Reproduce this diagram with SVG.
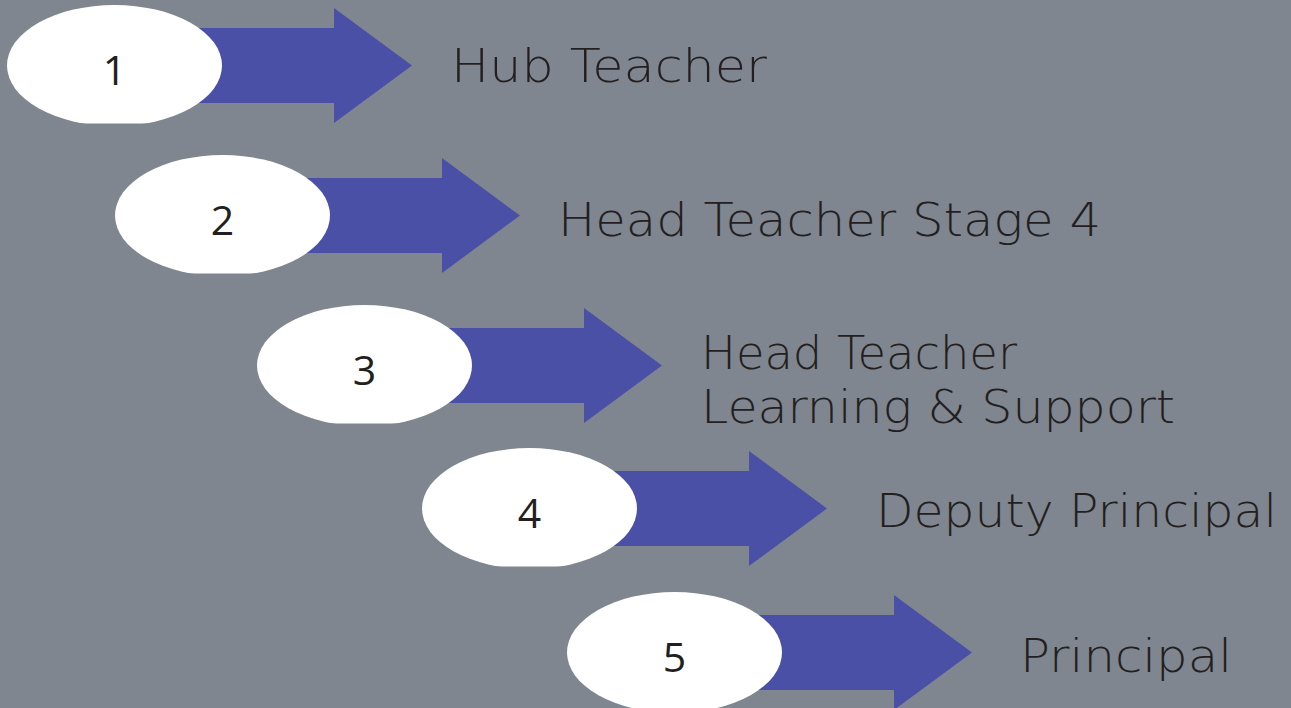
<svg xmlns="http://www.w3.org/2000/svg" width="1291" height="708" viewBox="0 0 1291 708">
<style>
.arrow{fill:#4a50a6}
.oval{fill:#ffffff}
.num{font-family:"Open Sans","Liberation Sans",sans-serif;font-size:41px;fill:#231f20;text-anchor:middle}
.lbl{font-family:"DejaVu Sans","Open Sans",sans-serif;font-weight:200;font-size:46px;fill:#231f20}
</style>
<defs>
<clipPath id="cut" clipPathUnits="objectBoundingBox"><rect x="0" y="0" width="1" height="0.98"/></clipPath>
</defs>
<rect width="1291" height="708" fill="#7f868f"/>
<g id="connectors">
<path class="arrow" d="M114.5,28 H334 V8 L412,65.5 L334,123 V103 H114.5 Z"/>
<path class="arrow" d="M222.5,178 H442 V158 L520,215.5 L442,273 V253 H222.5 Z"/>
<path class="arrow" d="M364.5,328 H584 V308 L662,365.5 L584,423 V403 H364.5 Z"/>
<path class="arrow" d="M529.5,471 H749 V451 L827,508.5 L749,566 V546 H529.5 Z"/>
<path class="arrow" d="M674.5,615 H894 V595 L972,652.5 L894,710 V690 H674.5 Z"/>
</g>
<g id="node1">
<ellipse class="oval" cx="114.5" cy="65.5" rx="107.5" ry="60.5" clip-path="url(#cut)"/>
<text class="num" x="114.5" y="85">1</text>
<text class="lbl" x="451" y="82" textLength="316" lengthAdjust="spacingAndGlyphs">Hub Teacher</text>
</g>
<g id="node2">
<ellipse class="oval" cx="222.5" cy="215.5" rx="107.5" ry="60.5" clip-path="url(#cut)"/>
<text class="num" x="222.5" y="235">2</text>
<text class="lbl" x="558" y="236" textLength="543" lengthAdjust="spacingAndGlyphs">Head Teacher Stage 4</text>
</g>
<g id="node3">
<ellipse class="oval" cx="364.5" cy="365.5" rx="107.5" ry="60.5" clip-path="url(#cut)"/>
<text class="num" x="364.5" y="385">3</text>
<text class="lbl" x="701" y="369" textLength="316" lengthAdjust="spacingAndGlyphs">Head Teacher</text>
<text class="lbl" x="701" y="423" textLength="474" lengthAdjust="spacingAndGlyphs">Learning &amp; Support</text>
</g>
<g id="node4">
<ellipse class="oval" cx="529.5" cy="508.5" rx="107.5" ry="60.5" clip-path="url(#cut)"/>
<text class="num" x="529.5" y="528">4</text>
<text class="lbl" x="876" y="527" textLength="401" lengthAdjust="spacingAndGlyphs">Deputy Principal</text>
</g>
<g id="node5">
<ellipse class="oval" cx="674.5" cy="652.5" rx="107.5" ry="60.5" clip-path="url(#cut)"/>
<text class="num" x="674.5" y="672">5</text>
<text class="lbl" x="1020" y="672" textLength="212" lengthAdjust="spacingAndGlyphs">Principal</text>
</g>
</svg>
